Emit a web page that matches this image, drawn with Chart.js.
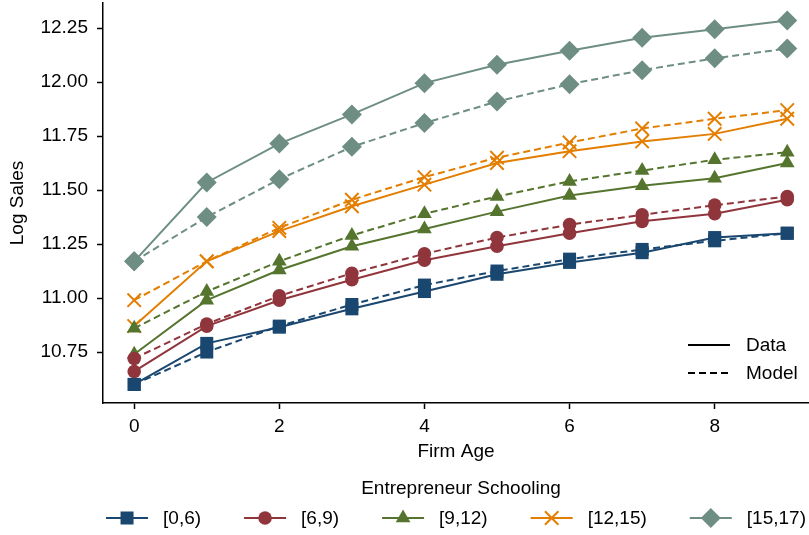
<!DOCTYPE html>
<html>
<head>
<meta charset="utf-8">
<script src="https://cdn.jsdelivr.net/npm/chart.js@4.4.0/dist/chart.umd.min.js"></script>
<style>
  html, body { margin: 0; padding: 0; background: #fff; }
</style>
</head>
<body>
<canvas id="salesChart" width="809" height="535"></canvas>
<script>
// x values and tick labels
const firmAge = [0, 1, 2, 3, 4, 5, 6, 7, 8, 9];
const xTickValues = [0, 2, 4, 6, 8];
const yTickValues = [10.75, 11.00, 11.25, 11.50, 11.75, 12.00, 12.25];

// schooling groups
const groupLabels = ['[0,6)', '[6,9)', '[9,12)', '[12,15)', '[15,17)'];
const lineKinds = ['Data', 'Model'];

// log sales by firm age
const data0to6 = [10.60, 10.79, 10.865, 10.95, 11.03, 11.11, 11.165, 11.21, 11.28, 11.30];
const model0to6 = [10.60, 10.75, 10.87, 10.97, 11.06, 11.125, 11.18, 11.225, 11.265, 11.30];
const data6to9 = [10.66, 10.87, 10.99, 11.085, 11.175, 11.24, 11.30, 11.355, 11.39, 11.455];
const model6to9 = [10.72, 10.88, 11.01, 11.115, 11.205, 11.28, 11.34, 11.385, 11.43, 11.47];
const data9to12 = [10.74, 10.99, 11.13, 11.24, 11.32, 11.40, 11.475, 11.52, 11.555, 11.625];
const model9to12 = [10.86, 11.03, 11.17, 11.29, 11.39, 11.47, 11.54, 11.59, 11.64, 11.675];
const data12to15 = [10.87, 11.17, 11.31, 11.425, 11.525, 11.625, 11.68, 11.725, 11.76, 11.83];
const model12to15 = [10.99, 11.17, 11.325, 11.455, 11.56, 11.65, 11.72, 11.785, 11.83, 11.87];
const data15to17 = [11.17, 11.535, 11.715, 11.85, 11.995, 12.08, 12.145, 12.205, 12.245, 12.285];
const model15to17 = [11.17, 11.375, 11.55, 11.70, 11.81, 11.91, 11.99, 12.055, 12.11, 12.155];

const dataSeries = [data0to6, data6to9, data9to12, data12to15, data15to17];
const modelSeries = [model0to6, model6to9, model9to12, model12to15, model15to17];

// look of each group
const groupColors = ['#1a476f', '#90353b', '#55752f', '#e37e00', '#6e8e84'];
const groupMarkers = ['rect', 'circle', 'triangle', 'crossRot', 'rectRot'];
const markerRadius = [9.2, 6.8, 8.5, 9.5, 10];

const FONT_FAMILY = '"Liberation Sans", Arial, sans-serif';
const baseFont = { family: FONT_FAMILY, size: 19 };

const toPoints = (vals) => vals.map((v, i) => ({ x: firmAge[i], y: v }));

const markerOptions = (g) => {
    const isCross = groupMarkers[g] === 'crossRot';
    return {
        pointStyle: groupMarkers[g],
        radius: markerRadius[g],
        rotation: 0,
        borderWidth: isCross ? 2 : 0
    };
};

const datasets = [];
groupLabels.forEach((label, g) => {
    const mk = markerOptions(g);
    [dataSeries[g], modelSeries[g]].forEach((series, k) => {
        datasets.push({
            label: label + ' ' + lineKinds[k],
            data: toPoints(series),
            borderColor: groupColors[g],
            backgroundColor: groupColors[g],
            borderWidth: 2,
            borderDash: k === 1 ? [7, 4] : [],
            tension: 0,
            fill: false,
            clip: false,
            pointStyle: mk.pointStyle,
            pointRadius: mk.radius,
            pointHoverRadius: mk.radius,
            pointBackgroundColor: groupColors[g],
            pointBorderColor: groupColors[g],
            pointBorderWidth: mk.borderWidth
        });
    });
});

// keys: line type key inside plot and schooling legend below
const keysPlugin = {
    id: 'keys',
    afterDraw(chart) {
        const ctx = chart.ctx;
        const area = chart.chartArea;
        ctx.save();
        ctx.font = '19px ' + FONT_FAMILY;
        ctx.fillStyle = '#000';
        ctx.textBaseline = 'middle';
        ctx.textAlign = 'left';

        // Data / Model key
        lineKinds.forEach((name, k) => {
            const y = area.bottom - 58 + k * 28;
            const x0 = area.right - 121;
            ctx.strokeStyle = '#000';
            ctx.lineWidth = 2;
            ctx.setLineDash(k === 1 ? [7, 4] : []);
            ctx.beginPath();
            ctx.moveTo(x0, y);
            ctx.lineTo(x0 + 42, y);
            ctx.stroke();
            ctx.setLineDash([]);
            ctx.fillText(name, x0 + 58, y + 1);
        });

        // schooling legend
        const cx = (area.left + area.right) / 2;
        ctx.textAlign = 'center';
        ctx.fillText('Entrepreneur Schooling', cx + 5, 489);

        ctx.textAlign = 'left';
        const lineLen = 42, textGap = 15, itemGap = 43;
        const widths = groupLabels.map(t => ctx.measureText(t).width);
        const total = widths.reduce((a, w) => a + w + lineLen + textGap, 0) + itemGap * (groupLabels.length - 1);
        let x = cx - total / 2;
        const y = 518;
        groupLabels.forEach((label, g) => {
            ctx.strokeStyle = groupColors[g];
            ctx.fillStyle = groupColors[g];
            ctx.lineWidth = 2;
            ctx.beginPath();
            ctx.moveTo(x, y);
            ctx.lineTo(x + lineLen, y);
            ctx.stroke();
            Chart.helpers.drawPoint(ctx, markerOptions(g), x + lineLen / 2, y);
            ctx.fillStyle = '#000';
            ctx.fillText(label, x + lineLen + textGap, y + 1);
            x += lineLen + textGap + widths[g] + itemGap;
        });
        ctx.restore();
    }
};

const ctx = document.getElementById('salesChart').getContext('2d');
const salesChart = new Chart(ctx, {
    type: 'line',
    data: { datasets: datasets },
    options: {
        responsive: false,
        animation: false,
        devicePixelRatio: 1,
        layout: { autoPadding: false, padding: { left: 0, top: 3, right: 0, bottom: 70 } },
        plugins: {
            legend: { display: false },
            tooltip: { enabled: false }
        },
        scales: {
            x: {
                type: 'linear',
                min: -0.43,
                max: 9.3,
                afterBuildTicks: (s) => { s.ticks = xTickValues.map(v => ({ value: v })); },
                afterFit: (s) => { s.height = 62; s.paddingLeft = 0; s.paddingRight = 0; },
                ticks: { font: baseFont, color: '#000', padding: 6, maxRotation: 0 },
                grid: { drawOnChartArea: false, drawTicks: true, tickLength: 6, tickWidth: 1.5, color: '#000' },
                border: { display: true, color: '#000', width: 1.5 },
                title: { display: true, text: 'Firm Age', font: baseFont, color: '#000', padding: { top: 0, bottom: 2 } }
            },
            y: {
                type: 'linear',
                min: 10.514,
                max: 12.366,
                afterBuildTicks: (s) => { s.ticks = yTickValues.map(v => ({ value: v })); },
                afterFit: (s) => { s.width = 103; s.paddingTop = 0; s.paddingBottom = 0; },
                ticks: { font: baseFont, color: '#000', padding: 9, callback: (v) => Number(v).toFixed(2) },
                grid: { drawOnChartArea: false, drawTicks: true, tickLength: 6, tickWidth: 1.5, color: '#000' },
                border: { display: true, color: '#000', width: 1.5 },
                title: { display: true, text: 'Log Sales', font: baseFont, color: '#000', padding: { top: 6, bottom: 0 } }
            }
        }
    },
    plugins: [keysPlugin]
});
</script>
</body>
</html>
